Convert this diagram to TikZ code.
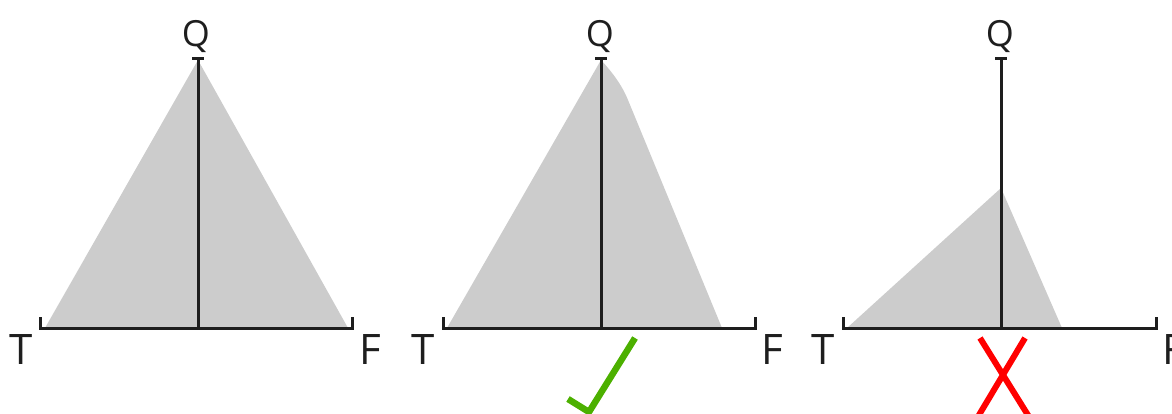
\documentclass[tikz,border=0pt]{standalone}
\usepackage{fontspec}
\setmainfont{Open Sans}
\definecolor{ink}{HTML}{1E1E1E}
\definecolor{shade}{HTML}{CCCCCC}
\definecolor{okgreen}{RGB}{76,176,0}
\definecolor{badred}{RGB}{255,0,0}
\tikzset{
  axis/.style={draw=ink, line width=3pt, line cap=butt, line join=miter},
  area/.style={fill=shade, draw=none},
  qlab/.style={anchor=base, inner sep=0pt, font=\fontsize{36}{40}\selectfont, text=ink},
  endlab/.style={anchor=base, inner sep=0pt, font=\fontsize{42}{46}\selectfont, text=ink},
  mark ok/.style={draw=okgreen, line width=6.5pt, line join=miter},
  mark bad/.style={draw=badred, line width=6pt}
}
\begin{document}
\begin{tikzpicture}[x=1pt,y=-1pt]
\useasboundingbox (0,0) rectangle (1172,414);

% ---------- Panel 1 ----------
\fill[area] (45,328) -- (198,60) -- (348,328) -- cycle;
\coordinate (q1) at (198,59);
\coordinate (b1) at (198,328);
\coordinate (l1) at (40,317);
\coordinate (r1) at (352,317);
\draw[axis] (l1) -- (40,328) -- (352,328) -- (r1);
\draw[axis] (q1) -- (b1);
\draw[axis] (192,59) -- (204,59);
\node[qlab] (Q1) at (196,46.5) {Q};
\node[endlab] (T1) at (21,364) {T};
\node[endlab] (F1) at (370,364) {F};

% ---------- Panel 2 ----------
\fill[area] (447,328) -- (601,60) .. controls (612,72) and (622,85) .. (628,100) -- (722,328) -- cycle;
\coordinate (q2) at (601,59);
\coordinate (b2) at (601,328);
\coordinate (l2) at (443,317);
\coordinate (r2) at (755,317);
\draw[axis] (l2) -- (443,328) -- (755,328) -- (r2);
\draw[axis] (q2) -- (b2);
\draw[axis] (595,59) -- (607,59);
\node[qlab] (Q2) at (600,46.5) {Q};
\node[endlab] (T2) at (423,364) {T};
\node[endlab] (F2) at (772,364) {F};
\coordinate (ok1) at (568,399);
\coordinate (ok2) at (589,412);
\coordinate (ok3) at (635,338);
\draw[mark ok] (ok1) -- (ok2) -- (ok3);

% ---------- Panel 3 ----------
\fill[area] (847,328) -- (1001,188) -- (1062,328) -- cycle;
\coordinate (q3) at (1001,59);
\coordinate (b3) at (1001,328);
\coordinate (l3) at (843,317);
\coordinate (r3) at (1156,317);
\draw[axis] (l3) -- (843,328) -- (1156,328) -- (r3);
\draw[axis] (q3) -- (b3);
\draw[axis] (995,59) -- (1007,59);
\node[qlab] (Q3) at (1000,46.5) {Q};
\node[endlab] (T3) at (823,364) {T};
\node[endlab] (F3) at (1173,364) {F};
\coordinate (xa) at (980,338);
\coordinate (xb) at (1031,420);
\coordinate (xc) at (1025,338);
\coordinate (xd) at (976,420);
\draw[mark bad] (xa) -- (xb);
\draw[mark bad] (xc) -- (xd);
\end{tikzpicture}
\end{document}
